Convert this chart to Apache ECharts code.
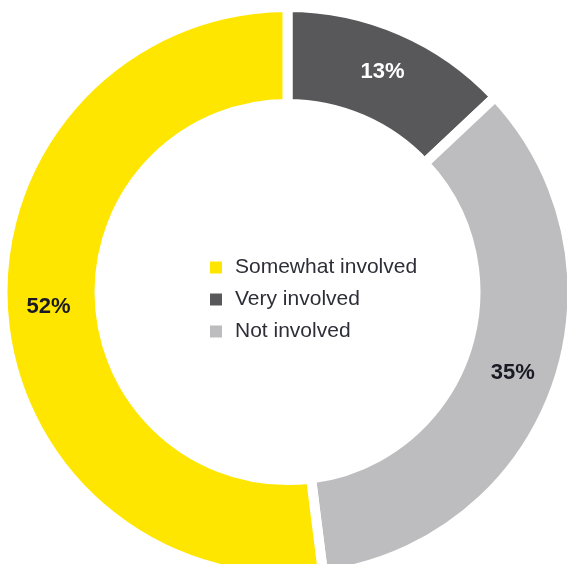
<!DOCTYPE html>
<html>
<head>
<meta charset="utf-8">
<script src="https://cdn.jsdelivr.net/npm/echarts@6/dist/echarts.min.js"></script>
<style>
  html, body { margin: 0; padding: 0; background: #ffffff; }
  #chart { width: 567px; height: 564px; }
</style>
</head>
<body>
<div id="chart"></div>
<script>
// Involvement shares, in percent (clockwise from the top)
const categories = ['Very involved', 'Not involved', 'Somewhat involved'];
const values = [13, 35, 52];
const colors = ['#58585a', '#bdbdbf', '#ffe600'];
const labelColors = ['#ffffff', '#1a1a24', '#1a1a24'];
const legendOrder = ['Somewhat involved', 'Very involved', 'Not involved'];

const chart = echarts.init(document.getElementById('chart'), null, { renderer: 'canvas' });

chart.setOption({
  animation: false,
  backgroundColor: '#ffffff',
  legend: {
    orient: 'vertical',
    left: 203,
    top: 252,
    data: legendOrder,
    icon: 'rect',
    itemWidth: 14,
    itemHeight: 14,
    itemGap: 11,
    selectedMode: false,
    textStyle: {
      fontFamily: 'Liberation Sans, Arial, sans-serif',
      fontSize: 21,
      color: '#2e2e38',
      padding: [0, 0, 0, 7]
    }
  },
  series: [{
    type: 'pie',
    center: [287.5, 292],
    radius: [188, 285],
    startAngle: 90,
    clockwise: true,
    silent: true,
    itemStyle: {
      borderColor: '#ffffff',
      borderWidth: 10,
      borderJoin: 'miter'
    },
    label: {
      show: true,
      position: 'inside',
      formatter: '{c}%',
      fontFamily: 'Liberation Sans, Arial, sans-serif',
      fontWeight: 'bold',
      fontSize: 22
    },
    labelLine: { show: false },
    data: categories.map((name, i) => ({
      name: name,
      value: values[i],
      itemStyle: { color: colors[i] },
      label: { color: labelColors[i] }
    }))
  }]
});
</script>
</body>
</html>
